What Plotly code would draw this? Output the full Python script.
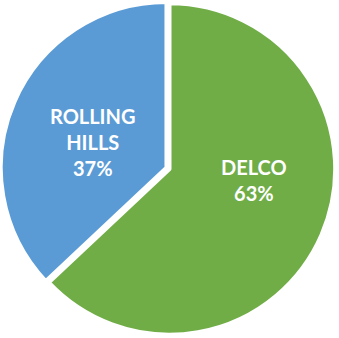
import plotly.graph_objects as go

# Share of the total by site
sites = ["DELCO", "ROLLING HILLS"]
site_lines = ["DELCO", "ROLLING<br>HILLS"]
shares = [63, 37]
colors = ["#70AD47", "#5B9BD5"]
pulls = [0, 0.02]

W, H = 339, 338

fig = go.Figure(
    go.Pie(
        labels=sites,
        values=shares,
        textinfo="none",
        sort=False,
        direction="clockwise",
        rotation=0,
        pull=pulls,
        marker=dict(colors=colors, line=dict(color="white", width=4)),
        hoverinfo="label+percent",
    )
)

# slice labels (pixel anchor of each text block inside its slice)
label_px = [(254, 180), (92, 142)]
total = sum(shares)
for name, share, (px, py) in zip(site_lines, shares, label_px):
    pct = round(100 * share / total)
    fig.add_annotation(
        x=px / W,
        y=1 - py / H,
        xref="paper",
        yref="paper",
        text=f"{name}<br>{pct}%",
        showarrow=False,
        xanchor="center",
        yanchor="middle",
        align="center",
        font=dict(family="Lato", size=20, color="white", weight="bold"),
    )

fig.update_layout(
    width=W,
    height=H,
    margin=dict(l=0, r=0, t=0, b=0),
    showlegend=False,
    paper_bgcolor="white",
    plot_bgcolor="white",
)

fig.write_html("out.html")
